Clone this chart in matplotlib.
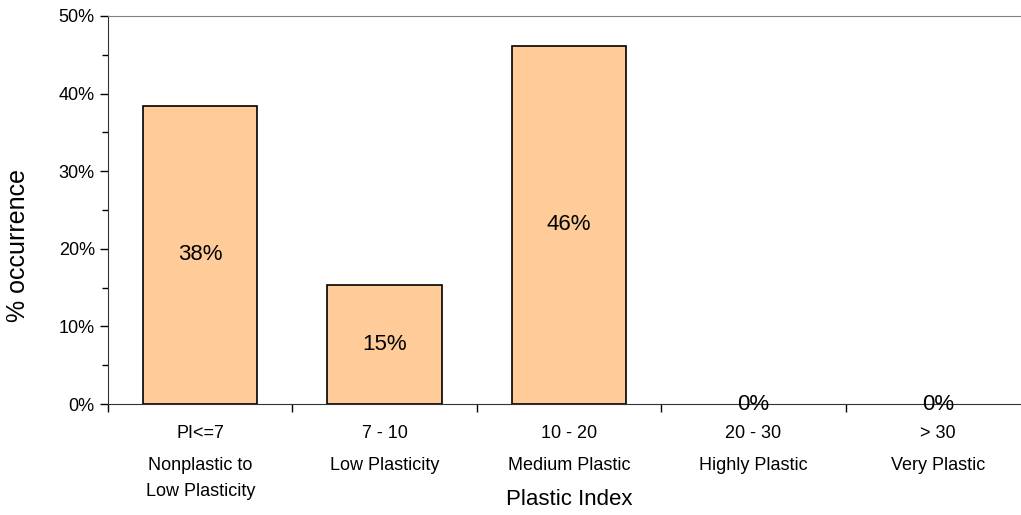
import matplotlib
matplotlib.use("Agg")
import matplotlib.pyplot as plt
from matplotlib.ticker import MultipleLocator, PercentFormatter

plt.rcParams['font.family'] = ['Liberation Sans', 'DejaVu Sans']

ranges = ["PI<=7", "7 - 10", "10 - 20", "20 - 30", "> 30"]
classes = ["Nonplastic to\nLow Plasticity", "Low Plasticity", "Medium Plastic",
           "Highly Plastic", "Very Plastic"]
occurrence = [38.46, 15.38, 46.15, 0.0, 0.0]

bar_color = "#FFCC99"


def main():
    fig = plt.figure(figsize=(10.21, 5.15), dpi=100)
    ax = fig.add_axes([0.1058, 0.2155, 0.9030, 0.7535])

    x = list(range(len(ranges)))
    edges = ["black" if v > 0 else "none" for v in occurrence]
    ax.bar(x, occurrence, width=0.62, color=bar_color, edgecolor=edges, linewidth=1.2)

    for xi, v in zip(x, occurrence):
        ax.text(xi, v / 2, "{:.0f}%".format(v), ha="center", va="center", fontsize=16)

    ax.set_xlim(-0.5, len(ranges) - 0.5)
    ax.set_ylim(0, 50)
    ax.yaxis.set_major_locator(MultipleLocator(10))
    ax.yaxis.set_minor_locator(MultipleLocator(5))
    ax.yaxis.set_major_formatter(PercentFormatter(decimals=0))

    # category boundaries carry the ticks, labels sit between them
    ax.set_xticks([i - 0.5 for i in range(len(ranges) + 1)])
    ax.set_xticklabels([])
    ax.tick_params(axis="x", which="major", direction="out", length=6, width=1)
    ax.tick_params(axis="y", which="major", direction="out", length=6, width=1, labelsize=13)
    ax.tick_params(axis="y", which="minor", direction="out", length=4, width=1)

    for xi, r, c in zip(x, ranges, classes):
        ax.annotate(r, xy=(xi, 0), xycoords=("data", "axes fraction"),
                    xytext=(0, -21), textcoords="offset points",
                    ha="center", va="center", fontsize=13)
        ax.annotate(c, xy=(xi, 0), xycoords=("data", "axes fraction"),
                    xytext=(0, -38), textcoords="offset points",
                    ha="center", va="top", fontsize=13, linespacing=1.7)

    ax.text(2.0, -0.247, "Plastic Index", transform=ax.get_xaxis_transform(),
            ha="center", va="center", fontsize=16)
    fig.text(18 / 1021, 1 - 245 / 515, "% occurrence", rotation=90,
             ha="center", va="center", fontsize=18)

    ax.spines["right"].set_visible(False)
    ax.spines["top"].set_color("#808080")
    ax.spines["left"].set_color("#333333")
    ax.spines["bottom"].set_color("#333333")

    fig.savefig("out.png", dpi=100)


if __name__ == '__main__':
    main()
